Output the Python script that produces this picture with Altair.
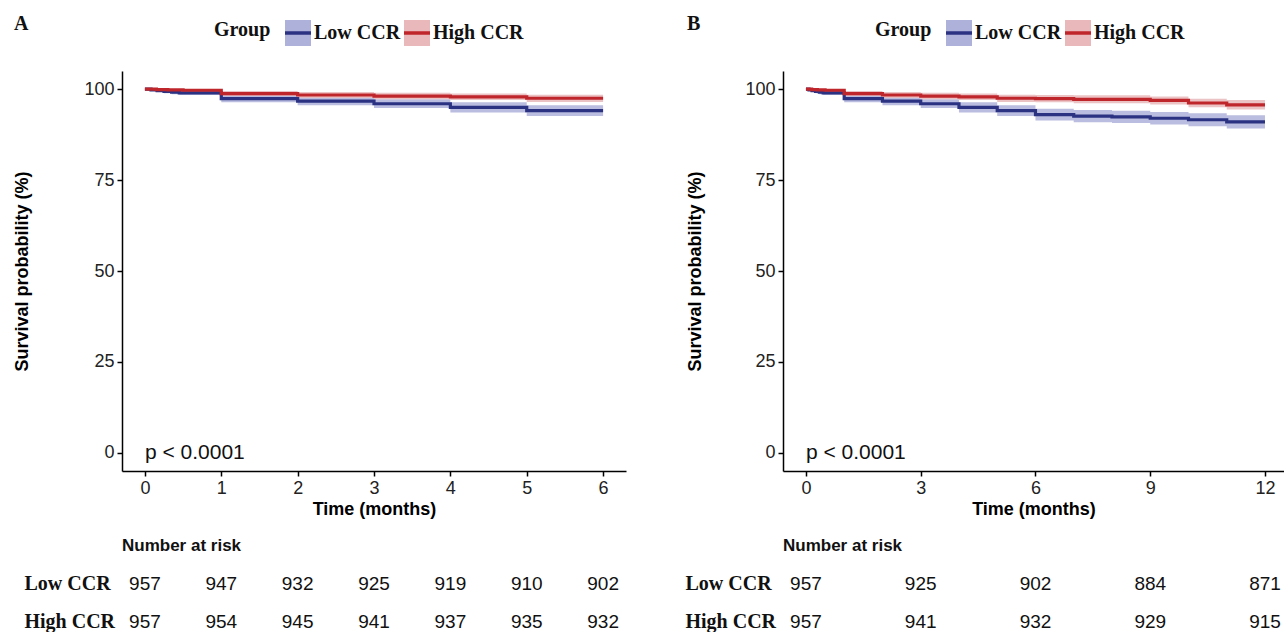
import altair as alt
import pandas as pd

GROUPS = ["Low CCR", "High CCR"]
LINE_COLORS = ["#2b3282", "#bf262c"]
BAND_COLORS = ["#aeb1d9", "#e9b8bb"]

# ---------------- Panel A (6 months) ----------------
a_low_t = [0, 0.08, 0.16, 0.25, 0.35, 0.45, 1, 2, 3, 4, 5, 6]
a_low_s = [100, 99.8, 99.6, 99.4, 99.2, 99.0, 97.4, 96.7, 96.0, 95.0, 94.1, 94.1]
a_low_lo = [100, 99.5, 99.2, 98.9, 98.6, 98.4, 96.4, 95.6, 94.8, 93.6, 92.6, 92.6]
a_low_hi = [100, 100, 100, 99.8, 99.7, 99.6, 98.4, 97.8, 97.2, 96.4, 95.6, 95.6]

a_high_t = [0, 0.15, 0.3, 0.5, 1, 2, 3, 4, 5, 6]
a_high_s = [100, 99.9, 99.8, 99.7, 98.8, 98.4, 98.1, 97.9, 97.5, 97.5]
a_high_lo = [100, 99.7, 99.5, 99.3, 98.1, 97.6, 97.2, 97.0, 96.5, 96.5]
a_high_hi = [100, 100, 100, 100, 99.5, 99.2, 99.0, 98.8, 98.5, 98.5]

a_risk_t = [0, 1, 2, 3, 4, 5, 6]
a_risk_low = [957, 947, 932, 925, 919, 910, 902]
a_risk_high = [957, 954, 945, 941, 937, 935, 932]

# ---------------- Panel B (12 months) ----------------
b_low_t = [0, 0.08, 0.16, 0.25, 0.35, 0.45, 1, 2, 3, 4, 5, 6, 7, 8, 9, 10, 11, 12]
b_low_s = [100, 99.8, 99.6, 99.4, 99.2, 99.0, 97.4, 96.7, 96.0, 95.0, 94.1, 93.0, 92.6, 92.4, 92.0, 91.6, 91.0, 91.0]
b_low_lo = [100, 99.5, 99.2, 98.9, 98.6, 98.4, 96.4, 95.6, 94.8, 93.6, 92.6, 91.4, 90.9, 90.7, 90.3, 89.8, 89.2, 89.2]
b_low_hi = [100, 100, 100, 99.8, 99.7, 99.6, 98.4, 97.8, 97.2, 96.4, 95.6, 94.6, 94.3, 94.1, 93.7, 93.4, 92.8, 92.8]

b_high_t = [0, 0.15, 0.3, 0.5, 1, 2, 3, 4, 5, 6, 7, 8, 9, 10, 11, 12]
b_high_s = [100, 99.9, 99.8, 99.7, 98.8, 98.4, 98.1, 97.9, 97.5, 97.4, 97.2, 97.2, 96.9, 96.2, 95.7, 95.7]
b_high_lo = [100, 99.7, 99.5, 99.3, 98.1, 97.6, 97.2, 97.0, 96.5, 96.4, 96.1, 96.1, 95.8, 95.0, 94.4, 94.4]
b_high_hi = [100, 100, 100, 100, 99.5, 99.2, 99.0, 98.8, 98.5, 98.4, 98.3, 98.3, 98.0, 97.4, 97.0, 97.0]

b_risk_t = [0, 3, 6, 9, 12]
b_risk_low = [957, 925, 902, 884, 871]
b_risk_high = [957, 941, 932, 929, 915]

P_LABEL = "p < 0.0001"
Y_TICKS = [0, 25, 50, 75, 100]

SANS = "Liberation Sans"
SERIF = "Liberation Serif"

LEG_X = 92       # legend title start, relative to plot left
LEG_ENTRY_X = 161  # legend entries start, relative to plot left
LEG_Y = -53


def km_frame(t_low, s_low, lo_low, hi_low, t_high, s_high, lo_high, hi_high):
    rows = []
    for t, s, lo, hi in zip(t_low, s_low, lo_low, hi_low):
        rows.append({"time": t, "surv": s, "lower": lo, "upper": hi, "grp": GROUPS[0], "grpb": GROUPS[0]})
    for t, s, lo, hi in zip(t_high, s_high, lo_high, hi_high):
        rows.append({"time": t, "surv": s, "lower": lo, "upper": hi, "grp": GROUPS[1], "grpb": GROUPS[1]})
    return pd.DataFrame(rows)


def legend_props(kind):
    common = dict(
        orient="none", legendY=LEG_Y, direction="horizontal",
        labelFont=SERIF, labelFontSize=20, labelFontWeight="bold", labelColor="#111",
        labelOffset=1, columnPadding=-4, symbolSize=676, symbolStrokeWidth=3.5,
    )
    if kind == "fill":
        return alt.Legend(symbolType="square", symbolOpacity=1, symbolStrokeColor="transparent",
                          legendX=LEG_X, title="Group", titleOrient="left", titleFont=SERIF,
                          titleFontSize=20, titleFontWeight="bold", titleColor="#111",
                          titlePadding=12, titleBaseline="alphabetic", **common)
    return alt.Legend(symbolType="stroke", labelOpacity=0, legendX=LEG_ENTRY_X, title=None, **common)


def panel(df, risk_t, risk_low, risk_high, xdomain, xticks, width, letter, ytitle_pad):
    xs = alt.Scale(domain=xdomain, nice=False, zero=False)
    ys = alt.Scale(domain=[-5, 105], nice=False, zero=False)
    xaxis = alt.Axis(values=xticks, title="Time (months)", format="d", labelFlush=False, titlePadding=3)
    yaxis = alt.Axis(values=Y_TICKS, title="Survival probability (%)", titlePadding=ytitle_pad)

    base = alt.Chart(df)
    band = base.mark_area(interpolate="step-after", opacity=0.85).encode(
        x=alt.X("time:Q", scale=xs, axis=xaxis),
        y=alt.Y("lower:Q", scale=ys, axis=yaxis),
        y2="upper:Q",
        fill=alt.Fill("grpb:N", sort=GROUPS, scale=alt.Scale(range=BAND_COLORS),
                      legend=legend_props("fill")),
    )
    line = base.mark_line(interpolate="step-after", strokeWidth=3.2).encode(
        x=alt.X("time:Q", scale=xs, axis=xaxis),
        y=alt.Y("surv:Q", scale=ys, axis=yaxis),
        stroke=alt.Stroke("grp:N", sort=GROUPS, scale=alt.Scale(range=LINE_COLORS),
                          legend=legend_props("stroke")),
    )
    ptext = alt.Chart(pd.DataFrame({"time": [0], "surv": [0], "label": [P_LABEL]})).mark_text(
        align="left", baseline="middle", fontSize=21, font=SANS, color="#111"
    ).encode(
        x=alt.X("time:Q", scale=xs, axis=xaxis),
        y=alt.Y("surv:Q", scale=ys, axis=yaxis),
        text="label:N",
    )
    km = alt.layer(band, line, ptext).properties(
        width=width, height=400,
        title=alt.TitleParams(letter, anchor="start", font=SERIF, fontSize=20,
                              fontWeight="bold", color="#111", offset=0, dy=16),
    )

    rdf = pd.DataFrame({
        "time": list(risk_t) + list(risk_t),
        "n": list(risk_low) + list(risk_high),
        "grp": [GROUPS[0]] * len(risk_t) + [GROUPS[1]] * len(risk_t),
    })
    risk = alt.Chart(rdf).mark_text(fontSize=19, font=SANS, color="#111", baseline="middle").encode(
        x=alt.X("time:Q", scale=xs, axis=None),
        y=alt.Y("grp:N", sort=GROUPS, scale=alt.Scale(type="point", padding=0.25),
                axis=alt.Axis(title=None, domain=False, ticks=False, labelFont=SERIF,
                              labelFontWeight="bold", labelFontSize=20, labelAlign="left",
                              labelPadding=98, labelColor="#111")),
        text="n:Q",
    ).properties(
        width=width, height=57,
        title=alt.TitleParams("Number at risk", anchor="start", frame="group", font=SANS,
                              fontSize=17, fontWeight="bold", color="#111", offset=19),
    )
    return alt.vconcat(km, risk, spacing=18).resolve_scale(
        fill="independent", stroke="independent"
    ).resolve_legend(fill="independent", stroke="independent")


dfA = km_frame(a_low_t, a_low_s, a_low_lo, a_low_hi, a_high_t, a_high_s, a_high_lo, a_high_hi)
dfB = km_frame(b_low_t, b_low_s, b_low_lo, b_low_hi, b_high_t, b_high_s, b_high_lo, b_high_hi)

pA = panel(dfA, a_risk_t, a_risk_low, a_risk_high, [-0.3, 6.3], [0, 1, 2, 3, 4, 5, 6], 504, "A", 52)
pB = panel(dfB, b_risk_t, b_risk_low, b_risk_high, [-0.6, 12.497], [0, 3, 6, 9, 12], 501, "B", 40)

chart = alt.hconcat(pA, pB, spacing=59).resolve_scale(
    fill="independent", stroke="independent", x="independent", y="independent"
).resolve_legend(
    fill="independent", stroke="independent"
).properties(
    padding={"left": 13, "top": 14, "right": 0, "bottom": 0}
).configure_view(stroke=None).configure_axis(
    domainColor="#000", domainWidth=1.5, tickColor="#000", tickWidth=1.5, tickSize=5,
    labelFont=SANS, labelFontSize=18, labelColor="#222", labelPadding=3,
    titleFont=SANS, titleFontSize=18, titleFontWeight="bold", titleColor="#000", grid=False,
)

chart.save("out.html", embed_options={"renderer": "svg", "actions": False})
